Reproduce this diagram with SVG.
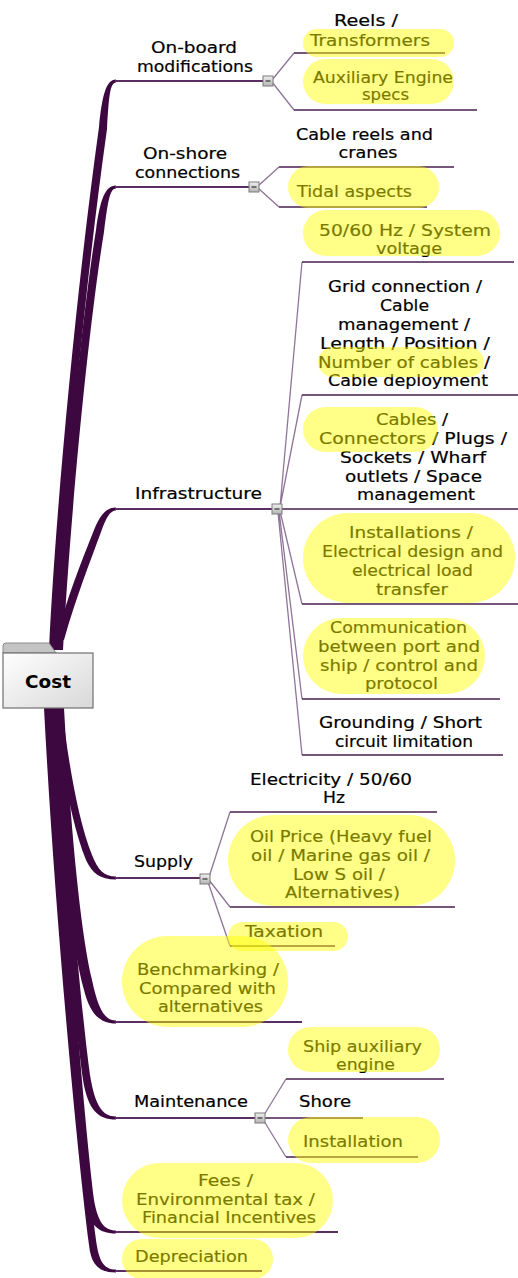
<svg xmlns="http://www.w3.org/2000/svg" width="518" height="1278" viewBox="0 0 518 1278">
<style>
.t{font-family:"DejaVu Sans",Verdana,sans-serif;font-size:16px;fill:#000;stroke:#000;stroke-width:0.2;text-anchor:middle}
.c{font-family:"DejaVu Sans",Verdana,sans-serif;font-size:18px;font-weight:bold;fill:#000;text-anchor:middle}
.hl{fill:#ffff00;fill-opacity:0.47}
.tr{fill:#3d0840}
.mn{stroke:#5a2e62;stroke-width:1.8;fill:none}
.fan{stroke:#8f7398;stroke-width:1.3;fill:none}
.ul{stroke:#4a1f4f;stroke-width:1.3;fill:none}
.bx{fill:url(#bg);stroke:#7a7a7a;stroke-width:1}
.mi{stroke:#303030;stroke-width:1.2}
</style>
<defs>
<linearGradient id="bg" x1="0" y1="0" x2="0" y2="1"><stop offset="0" stop-color="#f0f0f0"/><stop offset="1" stop-color="#b4b4b4"/></linearGradient>
<linearGradient id="cg" x1="0" y1="0" x2="1" y2="1"><stop offset="0" stop-color="#ffffff"/><stop offset="1" stop-color="#d8d8d8"/></linearGradient>
</defs>
<rect width="518" height="1278" fill="#fff"/>
<g id="connectors">
<path class="tr" d="M49,650 C55,520 75,300 99,127 C102,96 106,79.5 116,79.5 L116,82.5 C110,82.5 109,96 107,129 C83,300 63,520 57,650 Z"/>
<path class="tr" d="M55,650 C62,520 80,330 96,230 C100,200 105,185.5 116,185.5 L116,188.5 C110,188.5 108,200 104,232 C88,330 70,520 63,650 Z"/>
<path class="tr" d="M56,640 C66,600 82,560 94,530 C100,515 106,507.5 116,507.5 L116,510.5 C110,510.5 106,518 101,532 C90,562 75,600 64,640 Z"/>
<path class="tr" d="M62,708 C68,760 78,820 92,855 C98,870 104,876.5 116,876.5 L116,879.5 C100,879.5 92,873 86,860 C72,825 62,770 54,708 Z"/>
<path class="tr" d="M64,708 C70,820 80,930 92,980 C98,1008 104,1020.5 116,1020.5 L116,1023.5 C100,1023.5 90,1014 84,990 C70,940 60,830 56,708 Z"/>
<path class="tr" d="M60,708 C68,860 80,1000 90,1075 C95,1105 102,1116.5 116,1116.5 L116,1119.5 C98,1119.5 88,1110 83,1080 C72,1000 60,860 52,708 Z"/>
<path class="tr" d="M56,708 C66,900 84,1120 94,1200 C98,1222 104,1230.5 116,1230.5 L116,1233.5 C98,1233.5 90,1225 87,1205 C76,1120 58,900 48,708 Z"/>
<path class="tr" d="M52,708 C64,920 86,1160 96,1240 C99,1262 104,1269.5 116,1269.5 L116,1272.5 C98,1272.5 91,1264 89,1245 C78,1160 55,920 44,708 Z"/>
<path class="mn" d="M115,81 H263 M115,187 H249 M115,509 H272 M115,878 H200 M115,1118 H255 M115,1022 H302 M115,1232 H338 M115,1271 H262"/>
<path class="fan" d="M272,80 L294,53 M272,82 L294,110 M258,186 L279,167 M258,188 L279,207 M280,507 L302,262 M280,507 L302,395 M280,511 L302,604 M279,511 L302,699 M278,512 L302,755 M209,877 L230,812 M209,880 L230,907 M208,882 L230,946 M264,1115 L286,1079 M264,1121 L286,1157"/>
<path class="ul" d="M294,53 H445 M294,110 H477 M279,167 H454 M279,207 H427 M302,262 H514 M302,395 H518 M282,509 H518 M302,604 H518 M302,699 H500 M302,755 H503 M230,812 H437 M230,907 H455 M230,946 H335 M286,1079 H444 M265,1118 H363 M286,1157 H418"/>
</g>
<g id="cost">
<path d="M3,653 V646 Q3,643 6,643 H49 L56,653 Z" fill="#c4c4c4" stroke="#8a8a8a" stroke-width="1"/>
<rect x="3" y="653" width="90" height="55" fill="url(#cg)" stroke="#707070" stroke-width="1.2"/>
<text class="c" x="48" y="688" textLength="46" lengthAdjust="spacingAndGlyphs">Cost</text>
</g>
<g id="onboard">
<text class="t" x="194" y="53" textLength="86" lengthAdjust="spacingAndGlyphs">On-board</text>
<text class="t" x="195" y="72" textLength="116" lengthAdjust="spacingAndGlyphs">modifications</text>
<rect class="bx" x="263" y="76" width="10" height="10"/><path class="mi" d="M265.5,81 H270.5"/>
</g>
<g id="reels">
<text class="t" x="366" y="26" textLength="64" lengthAdjust="spacingAndGlyphs">Reels /</text>
<text class="t" x="370" y="46" textLength="120" lengthAdjust="spacingAndGlyphs">Transformers</text>
<rect class="hl" x="303" y="29" width="151" height="28" rx="14"/>
</g>
<g id="auxspecs">
<text class="t" x="383" y="83" textLength="140" lengthAdjust="spacingAndGlyphs">Auxiliary Engine</text>
<text class="t" x="385.5" y="100" textLength="47" lengthAdjust="spacingAndGlyphs">specs</text>
<rect class="hl" x="303" y="59" width="151" height="45" rx="22.5"/>
</g>
<g id="onshore">
<text class="t" x="185" y="159" textLength="84" lengthAdjust="spacingAndGlyphs">On-shore</text>
<text class="t" x="187.5" y="178" textLength="105" lengthAdjust="spacingAndGlyphs">connections</text>
<rect class="bx" x="249" y="182" width="10" height="10"/><path class="mi" d="M251.5,187 H256.5"/>
</g>
<g id="cablereels">
<text class="t" x="364.5" y="140" textLength="137" lengthAdjust="spacingAndGlyphs">Cable reels and</text>
<text class="t" x="368" y="158" textLength="59" lengthAdjust="spacingAndGlyphs">cranes</text>
</g>
<g id="tidal">
<text class="t" x="354.5" y="197" textLength="115" lengthAdjust="spacingAndGlyphs">Tidal aspects</text>
<rect class="hl" x="288" y="166" width="151" height="42" rx="21"/>
</g>
<g id="infrastructure">
<text class="t" x="198.5" y="499" textLength="127" lengthAdjust="spacingAndGlyphs">Infrastructure</text>
<rect class="bx" x="272" y="504" width="10" height="10"/><path class="mi" d="M274.5,509 H279.5"/>
</g>
<g id="hz">
<text class="t" x="405" y="236" textLength="172" lengthAdjust="spacingAndGlyphs">50/60 Hz / System</text>
<text class="t" x="409" y="254" textLength="66" lengthAdjust="spacingAndGlyphs">voltage</text>
<rect class="hl" x="303" y="210" width="197" height="46" rx="23"/>
</g>
<g id="grid">
<text class="t" x="405" y="292" textLength="154" lengthAdjust="spacingAndGlyphs">Grid connection /</text>
<text class="t" x="404.5" y="311" textLength="49" lengthAdjust="spacingAndGlyphs">Cable</text>
<text class="t" x="404" y="330" textLength="132" lengthAdjust="spacingAndGlyphs">management /</text>
<text class="t" x="405" y="349" textLength="170" lengthAdjust="spacingAndGlyphs">Length / Position /</text>
<text class="t" x="404" y="368" textLength="172" lengthAdjust="spacingAndGlyphs">Number of cables /</text>
<text class="t" x="408" y="386" textLength="160" lengthAdjust="spacingAndGlyphs">Cable deployment</text>
<rect class="hl" x="318" y="347" width="166" height="30" rx="15"/>
</g>
<g id="cables">
<text class="t" x="412" y="425" textLength="72" lengthAdjust="spacingAndGlyphs">Cables /</text>
<text class="t" x="413" y="444" textLength="188" lengthAdjust="spacingAndGlyphs">Connectors / Plugs /</text>
<text class="t" x="413" y="463" textLength="146" lengthAdjust="spacingAndGlyphs">Sockets / Wharf</text>
<text class="t" x="413.5" y="482" textLength="137" lengthAdjust="spacingAndGlyphs">outlets / Space</text>
<text class="t" x="416" y="500" textLength="118" lengthAdjust="spacingAndGlyphs">management</text>
<rect class="hl" x="303" y="407" width="135" height="45" rx="22.5"/>
</g>
<g id="installations">
<text class="t" x="411" y="538" textLength="124" lengthAdjust="spacingAndGlyphs">Installations /</text>
<text class="t" x="412.5" y="557" textLength="181" lengthAdjust="spacingAndGlyphs">Electrical design and</text>
<text class="t" x="412.5" y="576" textLength="121" lengthAdjust="spacingAndGlyphs">electrical load</text>
<text class="t" x="412" y="595" textLength="72" lengthAdjust="spacingAndGlyphs">transfer</text>
<rect class="hl" x="303" y="513" width="212" height="90" rx="45"/>
</g>
<g id="communication">
<text class="t" x="398.5" y="633" textLength="137" lengthAdjust="spacingAndGlyphs">Communication</text>
<text class="t" x="399" y="652" textLength="162" lengthAdjust="spacingAndGlyphs">between port and</text>
<text class="t" x="399" y="671" textLength="158" lengthAdjust="spacingAndGlyphs">ship / control and</text>
<text class="t" x="401.5" y="689" textLength="73" lengthAdjust="spacingAndGlyphs">protocol</text>
<rect class="hl" x="303" y="618" width="182" height="76" rx="38"/>
</g>
<g id="grounding">
<text class="t" x="400.5" y="728" textLength="163" lengthAdjust="spacingAndGlyphs">Grounding / Short</text>
<text class="t" x="404" y="747" textLength="138" lengthAdjust="spacingAndGlyphs">circuit limitation</text>
</g>
<g id="supply">
<text class="t" x="163.5" y="867" textLength="59" lengthAdjust="spacingAndGlyphs">Supply</text>
<rect class="bx" x="200" y="874" width="10" height="10"/><path class="mi" d="M202.5,879 H207.5"/>
</g>
<g id="electricity">
<text class="t" x="331" y="785" textLength="162" lengthAdjust="spacingAndGlyphs">Electricity / 50/60</text>
<text class="t" x="334" y="803" textLength="22" lengthAdjust="spacingAndGlyphs">Hz</text>
</g>
<g id="oilprice">
<text class="t" x="341" y="842" textLength="182" lengthAdjust="spacingAndGlyphs">Oil Price (Heavy fuel</text>
<text class="t" x="340.5" y="861" textLength="179" lengthAdjust="spacingAndGlyphs">oil / Marine gas oil /</text>
<text class="t" x="339" y="880" textLength="92" lengthAdjust="spacingAndGlyphs">Low S oil /</text>
<text class="t" x="342.5" y="898" textLength="115" lengthAdjust="spacingAndGlyphs">Alternatives)</text>
<rect class="hl" x="228" y="815" width="227" height="91" rx="45.5"/>
</g>
<g id="taxation">
<text class="t" x="284" y="937" textLength="78" lengthAdjust="spacingAndGlyphs">Taxation</text>
<rect class="hl" x="228" y="922" width="120" height="29" rx="14.5"/>
</g>
<g id="benchmarking">
<text class="t" x="208" y="975" textLength="142" lengthAdjust="spacingAndGlyphs">Benchmarking /</text>
<text class="t" x="207.5" y="994" textLength="137" lengthAdjust="spacingAndGlyphs">Compared with</text>
<text class="t" x="210.5" y="1012" textLength="105" lengthAdjust="spacingAndGlyphs">alternatives</text>
<rect class="hl" x="122" y="936" width="166" height="91" rx="45.5"/>
</g>
<g id="maintenance">
<text class="t" x="191" y="1107" textLength="114" lengthAdjust="spacingAndGlyphs">Maintenance</text>
<rect class="bx" x="255" y="1113" width="10" height="10"/><path class="mi" d="M257.5,1118 H262.5"/>
</g>
<g id="shipaux">
<text class="t" x="362.5" y="1052" textLength="119" lengthAdjust="spacingAndGlyphs">Ship auxiliary</text>
<text class="t" x="365.5" y="1070" textLength="59" lengthAdjust="spacingAndGlyphs">engine</text>
<rect class="hl" x="288" y="1027" width="152" height="45" rx="22.5"/>
</g>
<g id="shore">
<text class="t" x="325" y="1107" textLength="52" lengthAdjust="spacingAndGlyphs">Shore</text>
</g>
<g id="installation">
<text class="t" x="353" y="1147" textLength="100" lengthAdjust="spacingAndGlyphs">Installation</text>
<rect class="hl" x="288" y="1117" width="152" height="46" rx="23"/>
</g>
<g id="fees">
<text class="t" x="225.5" y="1186" textLength="55" lengthAdjust="spacingAndGlyphs">Fees /</text>
<text class="t" x="225.5" y="1205" textLength="179" lengthAdjust="spacingAndGlyphs">Environmental tax /</text>
<text class="t" x="229" y="1223" textLength="174" lengthAdjust="spacingAndGlyphs">Financial Incentives</text>
<rect class="hl" x="122" y="1163" width="211" height="75" rx="37.5"/>
</g>
<g id="depreciation">
<text class="t" x="191.5" y="1262" textLength="113" lengthAdjust="spacingAndGlyphs">Depreciation</text>
<rect class="hl" x="122" y="1239" width="151" height="40" rx="20"/>
</g>
</svg>
